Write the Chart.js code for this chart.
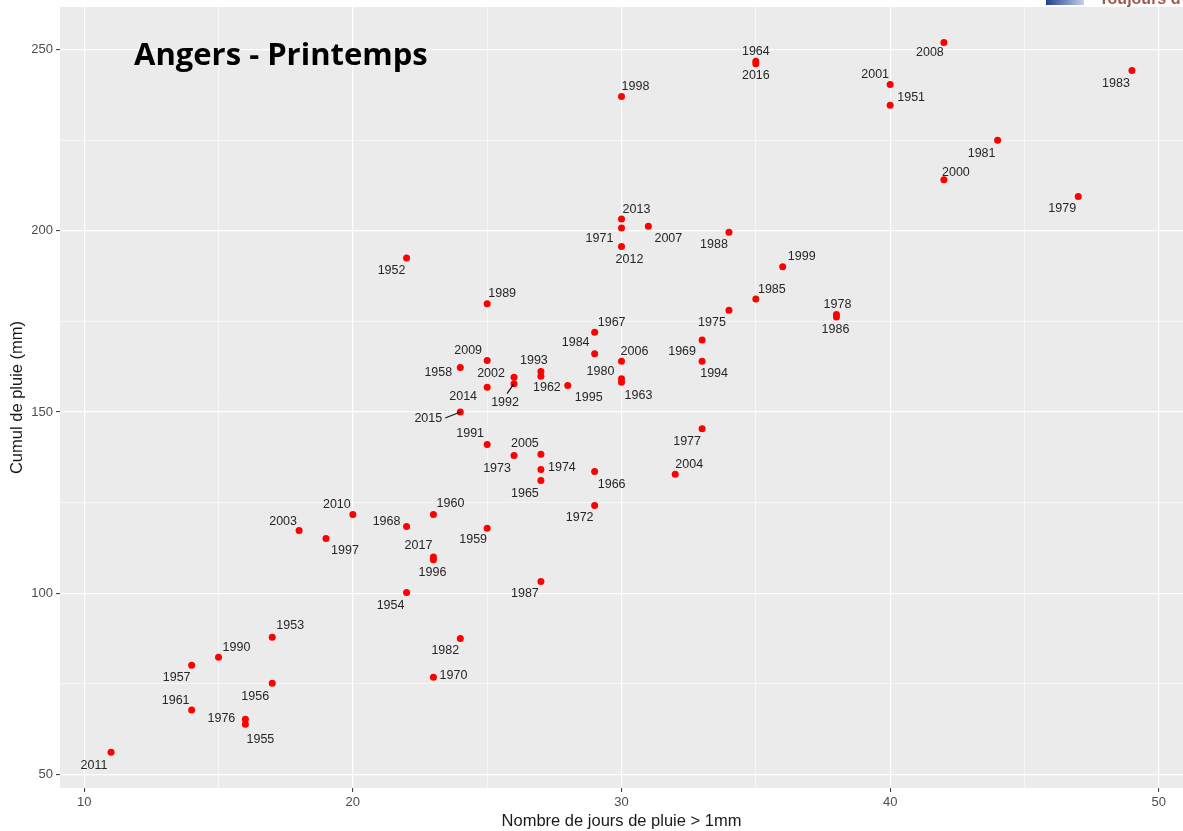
<!DOCTYPE html>
<html>
<head>
<meta charset="utf-8">
<script src="https://cdn.jsdelivr.net/npm/chart.js@4/dist/chart.umd.min.js"></script>
<style>
  html, body { margin: 0; padding: 0; background: #fff; }
  #wrap { width: 1183px; height: 831px; }
</style>
</head>
<body>
<div id="wrap"><canvas id="rainChart" width="1183" height="831"></canvas></div>
<script>
// Angers - printemps : nombre de jours de pluie > 1mm vs cumul (mm)
var years = [1951, 1952, 1953, 1954, 1955, 1956, 1957, 1958, 1959, 1960,
             1961, 1962, 1963, 1964, 1965, 1966, 1967, 1968, 1969, 1970,
             1971, 1972, 1973, 1974, 1975, 1976, 1977, 1978, 1979, 1980,
             1981, 1982, 1983, 1984, 1985, 1986, 1987, 1988, 1989, 1990,
             1991, 1992, 1993, 1994, 1995, 1996, 1997, 1998, 1999, 2000,
             2001, 2002, 2003, 2004, 2005, 2006, 2007, 2008, 2009, 2010,
             2011, 2012, 2013, 2014, 2015, 2016, 2017];
var rainDays = [40, 22, 17, 22, 16, 17, 14, 24, 25, 23,
                14, 27, 30, 35, 27, 29, 29, 22, 33, 23,
                30, 29, 26, 27, 34, 16, 33, 38, 47, 30,
                44, 24, 49, 29, 35, 38, 27, 34, 25, 15,
                25, 26, 27, 33, 28, 23, 19, 30, 36, 42,
                40, 26, 18, 32, 27, 30, 31, 42, 25, 20,
                11, 30, 30, 25, 24, 35, 23];
var rainTotal = [234.7, 192.5, 87.8, 100.2, 63.8, 75.1, 80.1, 162.3, 117.9, 121.7,
                 67.7, 159.9, 158.2, 246.8, 131.1, 133.6, 172.0, 118.4, 169.9, 76.8,
                 200.8, 124.2, 138.0, 134.1, 178.1, 65.2, 145.4, 176.9, 209.5, 159.2,
                 225.0, 87.5, 244.3, 166.1, 181.2, 176.2, 103.2, 199.6, 179.9, 82.3,
                 141.0, 157.8, 161.2, 164.0, 157.3, 109.2, 115.1, 237.1, 190.1, 214.1,
                 240.4, 159.6, 117.3, 132.8, 138.3, 164.0, 201.3, 252.0, 164.2, 121.7,
                 56.1, 195.7, 203.3, 156.8, 150.0, 246.1, 110.0];
var xTicks = [10, 20, 30, 40, 50];
var xMinor = [15, 25, 35, 45];
var yTicks = [50, 100, 150, 200, 250];
var yMinor = [75, 125, 175, 225];

// label placement (pixel offsets from the point, like ggrepel did it)
var labelPos = {
  1951: [21, -8], 1952: [-15, 13], 1953: [18, -12], 1954: [-16, 13], 1955: [15, 15],
  1956: [-17, 13], 1957: [-15, 12], 1958: [-22, 5], 1959: [-14, 11], 1960: [17, -11],
  1961: [-16, -10], 1962: [6, 11], 1963: [17, 13], 1964: [0, -10], 1965: [-16, 13],
  1966: [17, 13], 1967: [17, -10], 1968: [-20, -5], 1969: [-20, 12], 1970: [20, -2],
  1971: [-22, 11], 1972: [-15, 12], 1973: [-17, 13], 1974: [21, -2], 1975: [-17, 12],
  1976: [-24, -1], 1977: [-15, 13], 1978: [1, -10], 1979: [-16, 12], 1980: [-21, -7],
  1981: [-16, 13], 1982: [-15, 12], 1983: [-16, 13], 1984: [-19, -11], 1985: [16, -9],
  1986: [-1, 12], 1987: [-16, 12], 1988: [-15, 12], 1989: [15, -10], 1990: [18, -10],
  1991: [-17, -11], 1992: [-9, 19], 1993: [-7, -11], 1994: [12, 12], 1995: [21, 12],
  1996: [-1, 13], 1997: [19, 12], 1998: [14, -10], 1999: [19, -10], 2000: [12, -7],
  2001: [-15, -10], 2002: [-23, -4], 2003: [-16, -9], 2004: [14, -10], 2005: [-16, -11],
  2006: [13, -10], 2007: [20, 12], 2008: [-14, 10], 2009: [-19, -10], 2010: [-16, -10],
  2011: [-17, 13], 2012: [8, 13], 2013: [15, -9], 2014: [-24, 9], 2015: [-32, 7],
  2016: [0, 12], 2017: [-15, -11]
};
var leaders = { 2015: [-15, 6], 1992: [-7, 10] };

var points = years.map(function (y, i) {
    return { x: rainDays[i], y: rainTotal[i], year: y };
});

function isMajor(v, list) { return list.indexOf(v) !== -1; }

var panelPlugin = {
    id: 'panel',
    beforeDraw: function (chart) {
        var a = chart.chartArea, ctx = chart.ctx;
        ctx.save();
        ctx.fillStyle = '#ebebeb';
        ctx.fillRect(a.left, a.top, a.right - a.left, a.bottom - a.top);
        ctx.restore();
    },
    afterDatasetsDraw: function (chart) {
        var ctx = chart.ctx;
        var meta = chart.getDatasetMeta(0);
        ctx.save();
        // leader lines
        ctx.strokeStyle = '#1a1a1a';
        ctx.lineWidth = 1.3;
        meta.data.forEach(function (el, i) {
            var l = leaders[years[i]];
            if (!l) return;
            ctx.beginPath();
            ctx.moveTo(el.x, el.y);
            ctx.lineTo(el.x + l[0], el.y + l[1]);
            ctx.stroke();
        });
        // year labels
        ctx.font = '12.5px "Liberation Sans", Arial, sans-serif';
        ctx.fillStyle = '#262626';
        ctx.textAlign = 'center';
        ctx.textBaseline = 'middle';
        meta.data.forEach(function (el, i) {
            var o = labelPos[years[i]] || [0, -10];
            ctx.fillText(String(years[i]), el.x + o[0], el.y + o[1]);
        });

        // title
        ctx.font = 'bold 30px "Open Sans", sans-serif';
        var w = ctx.measureText('Angers - Printemps').width;
        var fs = 30 * 294 / w;
        ctx.font = 'bold ' + fs.toFixed(1) + 'px "Open Sans", sans-serif';
        ctx.fillStyle = '#000';
        ctx.textAlign = 'left';
        ctx.textBaseline = 'alphabetic';
        ctx.fillText('Angers - Printemps', 134, 65);
        ctx.restore();
    },
    afterDraw: function (chart) {
        var ctx = chart.ctx;
        ctx.save();
        // cropped logo at the top right
        var g = ctx.createLinearGradient(1046, 0, 1084, 0);
        g.addColorStop(0, '#1f3f8f');
        g.addColorStop(1, '#c9d0e8');
        ctx.fillStyle = g;
        ctx.fillRect(1046, 0, 38, 5);
        ctx.fillStyle = '#a4574f';
        ctx.font = 'bold 16px "Liberation Sans", Arial, sans-serif';
        ctx.textBaseline = 'alphabetic';
        ctx.fillText('Toujours d', 1099, 4);
        ctx.restore();
    }
};

var ctx = document.getElementById('rainChart').getContext('2d');
var rainChart = new Chart(ctx, {
    type: 'scatter',
    data: {
        datasets: [{
            label: 'Printemps',
            data: points,
            backgroundColor: '#ff0000',
            borderWidth: 0,
            pointRadius: 3.5,
            pointHoverRadius: 3.5
        }]
    },
    options: {
        responsive: false,
        animation: false,
        devicePixelRatio: 1,
        layout: { padding: { top: 7, right: 0, left: 0, bottom: 0 }, autoPadding: false },
        plugins: {
            legend: { display: false },
            tooltip: { enabled: false }
        },
        scales: {
            x: {
                type: 'linear',
                min: 9.1,
                max: 50.9,
                afterBuildTicks: function (axis) {
                    axis.ticks = xTicks.concat(xMinor).sort(function (a, b) { return a - b; })
                        .map(function (v) { return { value: v }; });
                },
                afterFit: function (axis) {
                    axis.height = 43;
                    axis.paddingLeft = 0;
                    axis.paddingRight = 0;
                },
                border: { display: false },
                grid: {
                    color: '#ffffff',
                    lineWidth: function (c) { return isMajor(c.tick.value, xTicks) ? 1.2 : 0.6; },
                    tickColor: function (c) { return isMajor(c.tick.value, xTicks) ? '#333333' : 'rgba(0,0,0,0)'; },
                    tickLength: 4,
                    tickWidth: 1
                },
                ticks: {
                    padding: 3,
                    autoSkip: false,
                    maxRotation: 0,
                    color: '#4d4d4d',
                    font: { family: '"Liberation Sans", Arial, sans-serif', size: 13 },
                    callback: function (v) { return isMajor(v, xTicks) ? String(v) : ''; }
                },
                title: {
                    display: true,
                    text: 'Nombre de jours de pluie > 1mm',
                    color: '#1a1a1a',
                    font: { family: '"Liberation Sans", Arial, sans-serif', size: 16.5 },
                    padding: { top: 2, bottom: 0 }
                }
            },
            y: {
                type: 'linear',
                min: 46.2,
                max: 261.8,
                afterBuildTicks: function (axis) {
                    axis.ticks = yTicks.concat(yMinor).sort(function (a, b) { return a - b; })
                        .map(function (v) { return { value: v }; });
                },
                afterFit: function (axis) {
                    axis.width = 60;
                    axis.paddingTop = 0;
                    axis.paddingBottom = 0;
                },
                border: { display: false },
                grid: {
                    color: '#ffffff',
                    lineWidth: function (c) { return isMajor(c.tick.value, yTicks) ? 1.2 : 0.6; },
                    tickColor: function (c) { return isMajor(c.tick.value, yTicks) ? '#333333' : 'rgba(0,0,0,0)'; },
                    tickLength: 4,
                    tickWidth: 1
                },
                ticks: {
                    padding: 3,
                    autoSkip: false,
                    color: '#4d4d4d',
                    font: { family: '"Liberation Sans", Arial, sans-serif', size: 13 },
                    callback: function (v) { return isMajor(v, yTicks) ? String(v) : ''; }
                },
                title: {
                    display: true,
                    text: 'Cumul de pluie (mm)',
                    color: '#1a1a1a',
                    font: { family: '"Liberation Sans", Arial, sans-serif', size: 16.5 },
                    padding: { top: 8, bottom: 2 }
                }
            }
        }
    },
    plugins: [panelPlugin]
});
</script>
</body>
</html>
